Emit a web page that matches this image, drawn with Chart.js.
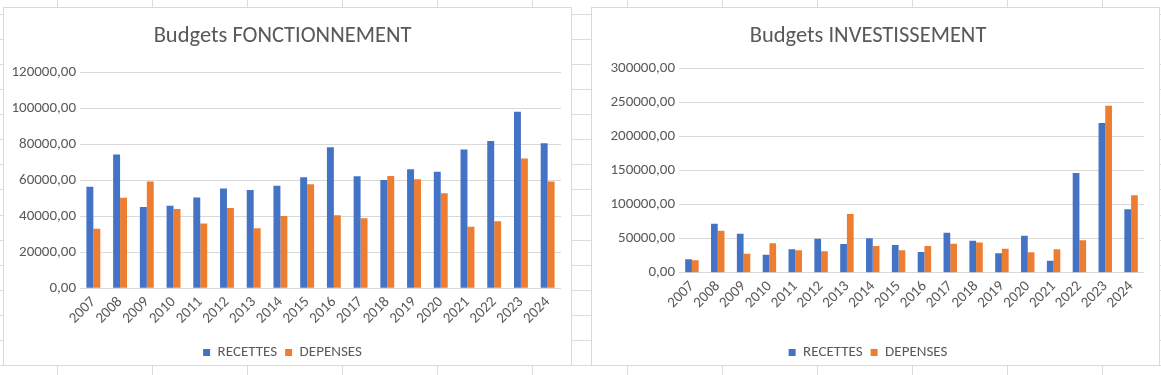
<!DOCTYPE html>
<html>
<head>
<meta charset="utf-8">
<script src="https://cdn.jsdelivr.net/npm/chart.js@4/dist/chart.umd.min.js"></script>
<style>
  html, body { margin: 0; padding: 0; }
  body {
    width: 1161px; height: 375px; position: relative; overflow: hidden;
    background-color: #ffffff;
    background-image:
      repeating-linear-gradient(to right, transparent 0, transparent 57px, #dcdcdc 57px, #dcdcdc 58px, transparent 58px, transparent 95px),
      repeating-linear-gradient(to bottom, transparent 0, transparent 14px, #dcdcdc 14px, #dcdcdc 15px, transparent 15px, transparent 25.07px);
  }
  .box {
    position: absolute; top: 7px; width: 567px; height: 357px;
    border: 1px solid #d9d9d9; background: #ffffff;
  }
  .cv { position: absolute; top: 8px; }
</style>
</head>
<body>
<div class="box" style="left:3px"></div>
<div class="box" style="left:591px"></div>
<div class="cv" style="left:4px;width:567px;height:362px"><canvas id="c1"></canvas></div>
<div class="cv" style="left:592px;width:567px;height:362px"><canvas id="c2"></canvas></div>
<script>
// ---- Data ----
const years = ['2007','2008','2009','2010','2011','2012','2013','2014','2015','2016','2017','2018','2019','2020','2021','2022','2023','2024'];

const fonctRecettes = [56500, 74500, 45300, 46000, 50600, 55600, 54700, 57100, 61800, 78500, 62300, 60300, 66200, 64900, 77300, 82000, 98300, 80700];
const fonctDepenses = [33200, 50400, 59400, 44100, 36000, 44700, 33400, 40300, 57900, 40600, 39000, 62500, 60700, 52900, 34300, 37300, 72200, 59500];

const investRecettes = [19600, 71900, 57300, 26400, 34300, 49900, 42100, 50400, 40600, 30300, 58700, 47000, 28400, 54300, 17600, 146300, 219700, 93000];
const investDepenses = [18100, 61700, 27900, 43100, 32800, 31300, 86100, 39200, 32800, 39200, 42600, 44500, 35200, 29900, 34300, 47500, 245200, 113500];

const fonctTicks = [0, 20000, 40000, 60000, 80000, 100000, 120000];
const investTicks = [0, 50000, 100000, 150000, 200000, 250000, 300000];

const seriesNames = ['RECETTES', 'DEPENSES'];
const seriesColors = ['#4472C4', '#ED7D31'];

// ---- Rendering ----
const FONT = "'Carlito', 'Liberation Sans', Arial, sans-serif";
const TXT = '#595959';
const fmt = v => Number(v).toFixed(2).replace('.', ',');

function makeChart(id, title, recettes, depenses, ticks, yWidth, xHeight, padRight, titleTop, titleBottom) {
  return new Chart(document.getElementById(id), {
    type: 'bar',
    data: {
      labels: years,
      datasets: [
        { label: seriesNames[0], data: recettes, backgroundColor: seriesColors[0], borderWidth: 0 },
        { label: seriesNames[1], data: depenses, backgroundColor: seriesColors[1], borderWidth: 0 }
      ]
    },
    options: {
      responsive: true,
      maintainAspectRatio: false,
      animation: false,
      devicePixelRatio: 1,
      datasets: { bar: { categoryPercentage: 0.52, barPercentage: 1.0 } },
      layout: { padding: { left: 0, right: padRight, top: 0, bottom: 0 } },
      plugins: {
        title: {
          display: true, text: title, color: TXT,
          font: { family: FONT, size: 22.5, weight: 'normal' },
          padding: { top: titleTop, bottom: titleBottom }
        },
        legend: {
          position: 'bottom',
          labels: {
            color: TXT, font: { family: FONT, size: 15 },
            boxWidth: 7, boxHeight: 7, padding: 8
          }
        },
        tooltip: { enabled: false }
      },
      scales: {
        x: {
          grid: { display: false, drawTicks: false },
          border: { display: false },
          ticks: {
            color: TXT, font: { family: FONT, size: 15 },
            minRotation: 45, maxRotation: 45, autoSkip: false, padding: 5
          },
          afterFit: s => { s.height = xHeight; }
        },
        y: {
          min: ticks[0], max: ticks[ticks.length - 1],
          afterBuildTicks: s => { s.ticks = ticks.map(v => ({ value: v })); },
          grid: { color: '#d9d9d9', lineWidth: 1, drawTicks: false },
          border: { display: false },
          ticks: {
            color: TXT, font: { family: FONT, size: 15 }, padding: 4,
            callback: v => fmt(v)
          },
          afterFit: s => { s.width = yWidth; }
        }
      }
    }
  });
}

makeChart('c1', 'Budgets FONCTIONNEMENT', fonctRecettes, fonctDepenses, fonctTicks, 76, 48.7, 10, 14.5, 23.2);
makeChart('c2', 'Budgets INVESTISSEMENT', investRecettes, investDepenses, investTicks, 87, 64.3, 15, 14.5, 18.8);
</script>
</body>
</html>
